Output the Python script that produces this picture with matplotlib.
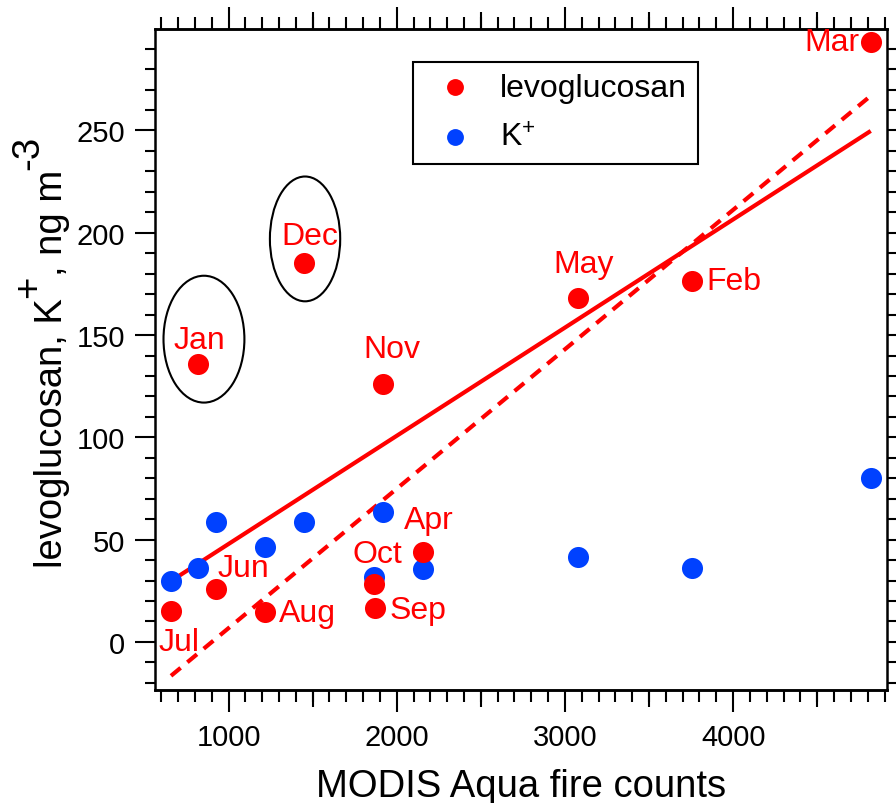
import numpy as np
import matplotlib
matplotlib.use("Agg")
import matplotlib.pyplot as plt
from matplotlib.patches import Ellipse
from matplotlib.ticker import MultipleLocator, FixedLocator, NullFormatter

plt.rcParams["font.family"] = ["Liberation Sans", "DejaVu Sans"]
plt.rcParams["mathtext.fontset"] = "custom"
plt.rcParams["mathtext.rm"] = "Liberation Sans"
plt.rcParams["mathtext.default"] = "regular"

RED = "#FF0000"
BLUE = "#0041FF"

# monthly values, Jan..Dec
months = ["Jan", "Feb", "Mar", "Apr", "May", "Jun",
          "Jul", "Aug", "Sep", "Oct", "Nov", "Dec"]
fire_counts = [819, 3755, 4818, 2156, 3077, 926, 658, 1217, 1868, 1862, 1918, 1449]
levoglucosan = [136, 176.5, 293, 44, 168, 26, 15, 14.7, 16.6, 28.3, 126, 185]
potassium = [36, 36, 80, 35.5, 41.5, 58.5, 30, 46.3, np.nan, 31.8, 63.5, 58.5]

# fitted lines (slope, intercept)
fit_solid = (0.05288, -5.0)
fit_dashed = (0.06815, -61.4)

fig = plt.figure(figsize=(8.96, 8.04), dpi=100)
ax = fig.add_axes([0.173, 0.1405, 0.817, 0.8227])

x = np.array(fire_counts)
xfit = np.array([x.min(), x.max()])
ax.plot(xfit, fit_solid[0] * xfit + fit_solid[1], color=RED, lw=3.0,
        solid_capstyle="butt", zorder=2)
ax.plot(xfit, fit_dashed[0] * xfit + fit_dashed[1], color=RED, lw=3.0,
        dashes=(3.0, 2.1), zorder=2)

ax.scatter(fire_counts, potassium, s=230, color=BLUE, lw=0, zorder=3, label="K$^{+}$")
ax.scatter(fire_counts, levoglucosan, s=230, color=RED, lw=0, zorder=4,
           label="levoglucosan")

# label placement (offset in pixels, horizontal alignment)
label_pos = {
    "Jan": ((1, 24), "center"), "Feb": ((14, 0), "left"),
    "Mar": ((-11, 0), "right"), "Apr": ((6, 32), "center"),
    "May": ((6, 34), "center"), "Jun": ((27, 21), "center"),
    "Jul": ((8, -31), "center"), "Aug": ((14, -1), "left"),
    "Sep": ((15, -2), "left"), "Oct": ((4, 30), "center"),
    "Nov": ((9, 35), "center"), "Dec": ((6, 27), "center"),
}
for m, xv, yv in zip(months, fire_counts, levoglucosan):
    off, ha = label_pos[m]
    ax.annotate(m, (xv, yv), xytext=off, textcoords="offset pixels",
                ha=ha, va="center", color=RED, fontsize=23, zorder=5)

ax.add_patch(Ellipse((854, 148), 481, 62, fill=False, ec="black", lw=1.5, zorder=1))
ax.add_patch(Ellipse((1455, 197), 418, 61, fill=False, ec="black", lw=1.5, zorder=1))

ax.set_xlim(563, 4915)
ax.set_ylim(-23.5, 299.8)

ax.xaxis.set_major_locator(MultipleLocator(1000))
ax.xaxis.set_minor_locator(MultipleLocator(100))
ax.yaxis.set_major_locator(MultipleLocator(50))
ax.yaxis.set_minor_locator(MultipleLocator(10))

ax.tick_params(which="both", direction="out", top=True, right=True, width=1.5,
               labelsize=21, color="black")
ax.tick_params(axis="x", which="major", length=16, pad=8)
ax.tick_params(axis="x", which="minor", length=8.5)
ax.tick_params(axis="y", which="major", length=14.5, pad=7)
ax.tick_params(axis="y", which="minor", length=7.5)

# medium ticks at the half thousands
for side in ("bottom", "top"):
    sec = ax.secondary_xaxis(side)
    sec.xaxis.set_major_locator(FixedLocator([500, 1500, 2500, 3500, 4500]))
    sec.xaxis.set_major_formatter(NullFormatter())
    sec.tick_params(direction="out", length=12, width=1.5)
    sec.spines[side].set_linewidth(1.8)

for sp in ax.spines.values():
    sp.set_linewidth(1.8)

ax.set_xlabel("MODIS Aqua fire counts", fontsize=27.5, labelpad=12)

# y label built from pieces so the superscripts stay full size
renderer = fig.canvas.get_renderer()
W, H = fig.bbox.width, fig.bbox.height
base_x = 62
ypos = 568
for piece, lift in [("levoglucosan, K", 0), ("+", 23), (", ng m", 0), ("-3", 24)]:
    t = fig.text((base_x - lift) / W, 1 - ypos / H, piece, rotation=90,
                 rotation_mode="anchor", ha="left", va="baseline", fontsize=27.5)
    ypos -= t.get_window_extent(renderer).height

handles, labels = ax.get_legend_handles_labels()
leg = ax.legend(handles[::-1], labels[::-1], loc="upper left",
                bbox_to_anchor=(0.352, 0.95), fontsize=23, frameon=True,
                fancybox=False, framealpha=1, edgecolor="black",
                borderpad=0.35, handlelength=1.95, handletextpad=0.44,
                labelspacing=0.62, markerscale=0.8, borderaxespad=0)
leg.get_frame().set_linewidth(1.5)

fig.savefig("out.png", dpi=100)
